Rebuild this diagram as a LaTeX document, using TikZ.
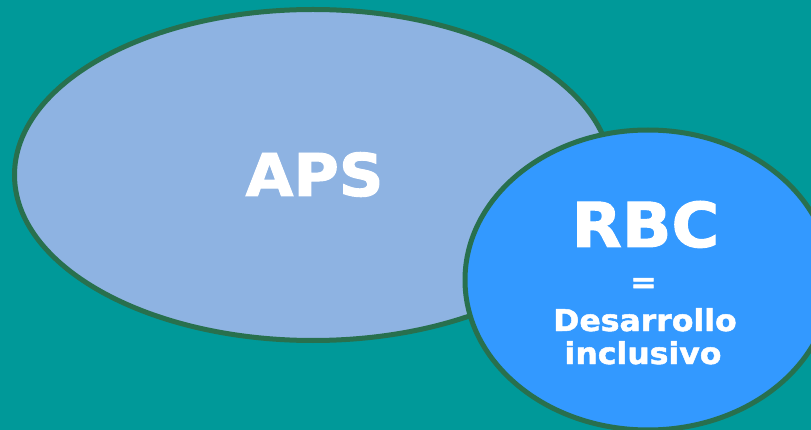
\documentclass[tikz,border=0pt]{standalone}
\usepackage{fontspec}
\setmainfont{DejaVu Sans}
\newfontfamily\heavyfont[FakeBold=1.6]{DejaVu Sans Bold}
\usetikzlibrary{shapes.geometric}
\definecolor{bgteal}{RGB}{0,153,153}
\definecolor{apsfill}{RGB}{142,179,226}
\definecolor{rbcfill}{RGB}{51,153,255}
\definecolor{rim}{RGB}{40,112,78}
\tikzset{
  blob/.style={ellipse, draw=rim, line width=5pt, inner sep=0pt},
  label/.style={text=white, inner sep=0pt, anchor=base},
}
\newcommand{\wide}[1]{\scalebox{1.05}[1]{#1}}
\begin{document}
\begin{tikzpicture}[x=1pt,y=-1pt]
\fill[bgteal] (0,0) rectangle (811,430);
\useasboundingbox (0,0) rectangle (811,430);
\node[blob, fill=apsfill, minimum width=597pt, minimum height=331pt] (aps) at (313,175) {};
\node[blob, fill=rbcfill, minimum width=366pt, minimum height=300pt] (rbc) at (648,280) {};
\node[label, font=\heavyfont\fontsize{59}{59}\selectfont] (apst) at (314.5,196) {\wide{APS}};
\node[label, font=\heavyfont\fontsize{62}{62}\selectfont] (rbct) at (645.5,247) {\wide{RBC}};
\node[label, font=\heavyfont\fontsize{30}{30}\selectfont] (eq) at (643.5,292.5) {\wide{=}};
\node[label, font=\heavyfont\fontsize{30}{30}\selectfont] (des) at (645,331) {\wide{Desarrollo}};
\node[label, font=\heavyfont\fontsize{30}{30}\selectfont] (inc) at (643,364) {\wide{inclusivo}};
\end{tikzpicture}
\end{document}
